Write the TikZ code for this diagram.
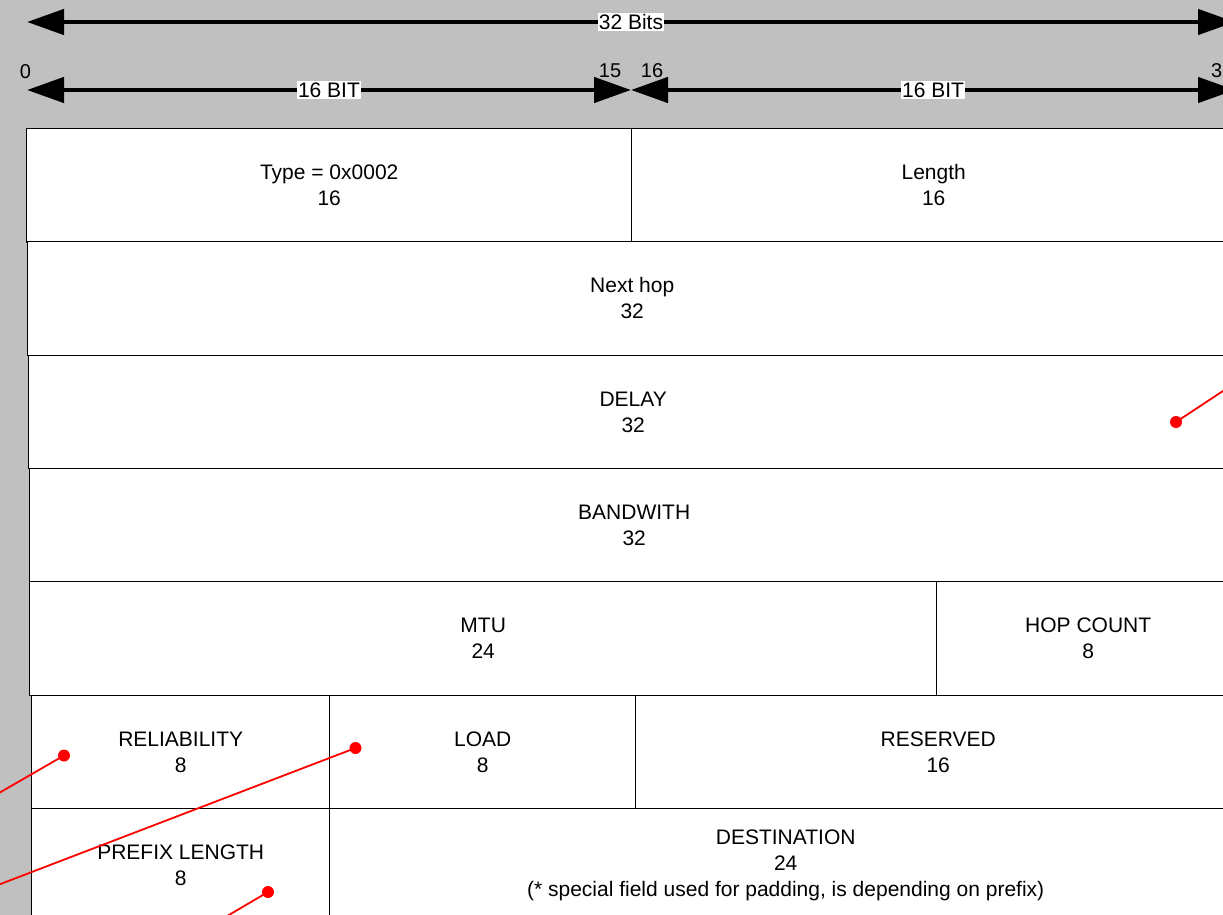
\documentclass[tikz,border=0pt]{standalone}
\usepackage{fontspec}
\setmainfont{Liberation Sans}
\usetikzlibrary{arrows.meta}
\definecolor{canvas}{RGB}{192,192,192}
\definecolor{marker}{RGB}{255,0,0}
\begin{document}
\begin{tikzpicture}[x=1pt,y=-1pt,
  field/.style={draw=black, line width=1.4pt, fill=white, inner sep=0pt,
    anchor=north west, align=center, minimum height=113.5pt,
    font=\fontsize{21}{26}\selectfont},
  span/.style={line width=4.5pt, {Triangle[length=37pt,width=25pt]}-{Triangle[length=37pt,width=25pt]}},
  spanlabel/.style={fill=white, inner xsep=1pt, inner ysep=1.5pt, font=\fontsize{21}{24}\selectfont},
  bitno/.style={inner sep=0pt, font=\fontsize{20}{24}\selectfont},
  dot/.style={circle, fill=marker, inner sep=0pt, minimum size=12pt},
  lead/.style={draw=marker, line width=1.8pt}
]
\useasboundingbox (0,0) rectangle (1223,915);
\fill[canvas] (0,0) rectangle (1223,915);
\clip (0,0) rectangle (1223,915);

% bit-width rulers
\coordinate (w0) at (27,22);
\coordinate (w31) at (1235,22);
\draw[span] (w0) -- node[spanlabel] {32 Bits} (w31);

\coordinate (h0) at (27,90);
\coordinate (hmid) at (631,90);
\coordinate (h31) at (1235,90);
\draw[span] (h0) -- node[spanlabel] {16 BIT} (hmid);
\draw[span] (hmid) -- node[spanlabel] {16 BIT} (h31);

\node[bitno] (n0) at (25.5,72) {0};
\node[bitno] (n15) at (610,71) {15};
\node[bitno] (n16) at (652,71) {16};
\node[bitno, anchor=west] (n31) at (1211,71) {31};

% header fields
\node[field, minimum width=605pt] (type) at (26,128) {Type = 0x0002\\16};
\node[field, minimum width=604pt] (length) at (631,128) {Length\\16};
\node[field, minimum width=1209pt] (nexthop) at (27,241) {Next hop\\32};
\node[field, minimum width=1209pt] (delay) at (28,354.5) {DELAY\\32};
\node[field, minimum width=1209pt] (bandwidth) at (29,468) {BANDWITH\\32};
\node[field, minimum width=907pt] (mtu) at (29,581) {MTU\\24};
\node[field, minimum width=303pt] (hops) at (936,581) {HOP COUNT\\8};
\node[field, minimum width=298pt] (reliability) at (31,694.5) {RELIABILITY\\8};
\node[field, minimum width=306pt] (load) at (329,694.5) {LOAD\\8};
\node[field, minimum width=605pt] (reserved) at (635,694.5) {RESERVED\\16};
\node[field, minimum width=298pt] (prefix) at (31,808) {PREFIX LENGTH\\8};
\node[field, minimum width=912pt] (dest) at (329,808)
  {DESTINATION\\24\\(* special field used for padding, is depending on prefix)};

% red marker leads
\node[dot] (m1) at (1176,422) {};
\coordinate (e1) at (1270,360);
\draw[lead] (m1.center) -- (e1);

\node[dot] (m2) at (64,755.5) {};
\coordinate (e2) at (-40,815.5);
\draw[lead] (m2.center) -- (e2);

\node[dot] (m3) at (355.5,748) {};
\coordinate (e3) at (-40,899.5);
\draw[lead] (m3.center) -- (e3);

\node[dot] (m4) at (268,892) {};
\coordinate (e4) at (200,932);
\draw[lead] (m4.center) -- (e4);
\end{tikzpicture}
\end{document}
